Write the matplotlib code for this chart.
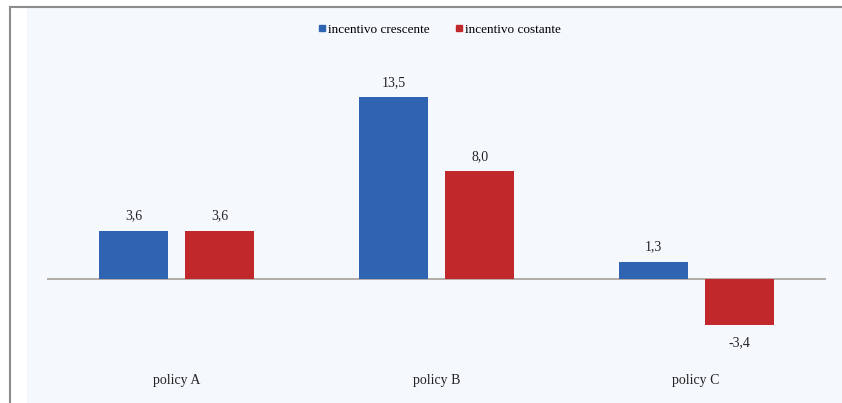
import matplotlib.pyplot as plt
import numpy as np
from matplotlib.lines import Line2D

categories = ['policy A', 'policy B', 'policy C']
crescente = [3.6, 13.5, 1.3]
costante = [3.6, 8.0, -3.4]
series_names = ['incentivo crescente', 'incentivo costante']

blue = '#2F64B2'
red = '#C0282C'
bg = '#F5F9FD'

plt.rcParams['font.family'] = ['Liberation Serif', 'DejaVu Serif']

fig = plt.figure(figsize=(8.42, 4.03), dpi=100, facecolor='white')
# panel background + frame (left and top edges only)
fig.patches.append(plt.Rectangle((27/842, 0), 1, 1 - 8/403, transform=fig.transFigure,
                                 facecolor=bg, edgecolor='none', zorder=-5))
fig.lines.append(Line2D([10/842, 10/842], [0, 1 - 7/403], transform=fig.transFigure,
                        color='#8c8c8c', lw=1.5, zorder=-4))
fig.lines.append(Line2D([10/842, 1], [1 - 7/403, 1 - 7/403], transform=fig.transFigure,
                        color='#8c8c8c', lw=1.5, zorder=-4))

ax = fig.add_axes([47/842, 8/403, 779/842, 335/403])
ax.set_facecolor('none')

x = np.arange(len(categories))
w = 0.266
off = 0.166
b1 = ax.bar(x - off, crescente, width=w, color=blue, label=series_names[0], zorder=2)
b2 = ax.bar(x + off, costante, width=w, color=red, label=series_names[1], zorder=2)

ax.axhline(0, color='#a8a09a', lw=1.2, zorder=1)

for bars, vals in [(b1, crescente), (b2, costante)]:
    for rect, v in zip(bars, vals):
        cx = rect.get_x() + rect.get_width() / 2
        txt = f'{v:.1f}'.replace('.', ',')
        if v >= 0:
            ax.annotate(txt, (cx, v), xytext=(0, 6), textcoords='offset points',
                        ha='center', va='bottom', fontsize=10, color='#222222')
        else:
            ax.annotate(txt, (cx, v), xytext=(0, -8), textcoords='offset points',
                        ha='center', va='top', fontsize=10, color='#222222')

for xi, c in zip(x, categories):
    ax.text(xi, -7.5, c, ha='center', va='center', fontsize=10, color='#222222')

ax.set_xlim(-0.5, 2.5)
ax.set_ylim(-8.6, 16.25)
ax.axis('off')

handles = [Line2D([], [], marker='s', color=blue, ls='none', markersize=5),
           Line2D([], [], marker='s', color=red, ls='none', markersize=5)]
fig.legend(handles, series_names, loc='center', bbox_to_anchor=(440/842, 1 - 30/403),
           ncol=2, frameon=False, fontsize=9.5, handlelength=0.5, handletextpad=0.2,
           columnspacing=2.0)

fig.savefig('out.png', dpi=100, facecolor='white')
